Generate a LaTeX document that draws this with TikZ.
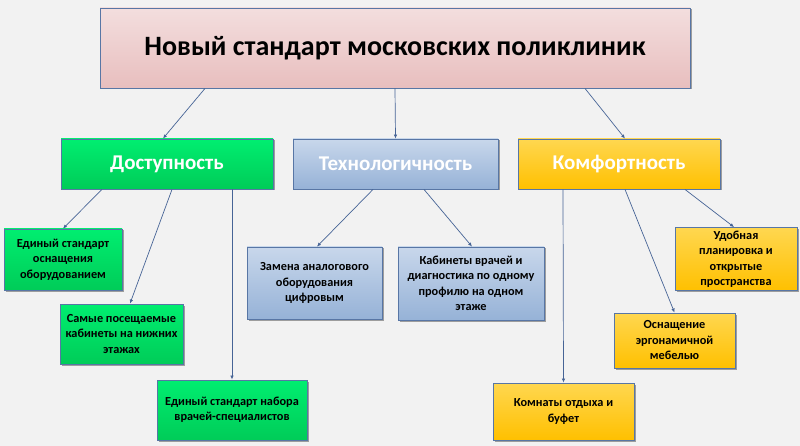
\documentclass[tikz,border=0pt]{standalone}
\usepackage{fontspec}
\setmainfont{Carlito}
\usetikzlibrary{arrows.meta,shadows,calc}

\definecolor{bgc}{RGB}{242,242,242}
\definecolor{edgec}{RGB}{88,118,165}
\definecolor{linkc}{RGB}{70,100,150}
\definecolor{pinktop}{RGB}{243,222,222}
\definecolor{pinkbot}{RGB}{232,190,190}
\definecolor{greentop}{RGB}{0,238,112}
\definecolor{greenbot}{RGB}{0,204,88}
\definecolor{bluetop}{RGB}{200,215,235}
\definecolor{bluebot}{RGB}{150,178,215}
\definecolor{goldtop}{RGB}{255,215,80}
\definecolor{goldbot}{RGB}{255,192,0}

\begin{document}
\begin{tikzpicture}[
    x=1pt, y=-1pt,
    font=\bfseries,
    box/.style={draw=edgec, line width=0.9pt, align=center, inner sep=3pt,
                drop shadow={shadow xshift=1.5pt, shadow yshift=-1.5pt,
                             opacity=0.35, fill=black}},
    head/.style={box, top color=pinktop, bottom color=pinkbot,
                 minimum width=590pt, minimum height=80pt,
                 font=\bfseries\fontsize{28}{32}\selectfont},
    topic/.style={box, minimum height=50pt, text=white,
                  font=\bfseries\fontsize{21}{25}\selectfont},
    item/.style={box, font=\bfseries\fontsize{12.3}{15.5}\selectfont},
    green/.style={top color=greentop, bottom color=greenbot},
    blue/.style={top color=bluetop, bottom color=bluebot},
    gold/.style={top color=goldtop, bottom color=goldbot},
    arr/.style={-{Latex[length=4pt,width=3.5pt]}, linkc, line width=0.7pt}
  ]

  % ===== background =====
  \fill[bgc] (0,0) rectangle (800,446);

  % ===== title and three topics =====
  \node[head] (title) at (395,48) {Новый стандарт московских поликлиник};
  \node[topic, green, minimum width=212pt] (dost) at (167,164) {Доступность};
  \node[topic, blue,  minimum width=205pt] (tech) at (395.5,164) {Технологичность};
  \node[topic, gold,  minimum width=202pt] (komf) at (619,164) {Комфортность};

  \draw[arr] ([xshift=-190pt]title.south) -- ([xshift=-4pt]dost.north);
  \draw[arr] (title.south) -- (tech.north);
  \draw[arr] ([xshift=190pt]title.south) -- ([xshift=6pt]komf.north);

  % ===== Доступность =====
  \node[item, green, minimum width=118pt, minimum height=61pt] (eq) at (63,259.5)
    {Единый стандарт\\оснащения\\оборудованием};
  \node[item, green, minimum width=123pt, minimum height=60pt] (floor) at (121.5,334)
    {Самые посещаемые\\кабинеты на нижних\\этажах};
  \node[item, green, minimum width=150pt, minimum height=60pt] (staff) at (232,410)
    {Единый стандарт набора\\врачей-специалистов};

  \draw[arr] ([xshift=-65pt]dost.south) -- (eq.north);
  \draw[arr] ([xshift=5pt]dost.south) -- ([xshift=8.5pt]floor.north);
  \draw[arr] ([xshift=65pt]dost.south) -- (staff.north);

  % ===== Технологичность =====
  \node[item, blue, minimum width=135pt, minimum height=72pt] (digit) at (314.5,283)
    {Замена аналогового\\оборудования\\цифровым};
  \node[item, blue, minimum width=146pt, minimum height=73pt] (prof) at (471,283.5)
    {Кабинеты врачей и\\диагностика по одному\\профилю на одном\\этаже};

  \draw[arr] ([xshift=-22.5pt]tech.south) -- ([xshift=2.5pt]digit.north);
  \draw[arr] ([xshift=28.5pt]tech.south) -- ([xshift=1pt]prof.north);

  % ===== Комфортность =====
  \node[item, gold, minimum width=122pt, minimum height=60pt] (plan) at (736,259)
    {Удобная\\планировка и\\открытые\\пространства};
  \node[item, gold, minimum width=121pt, minimum height=55pt] (furn) at (674.5,340.5)
    {Оснащение\\эргонамичной\\мебелью};
  \node[item, gold, minimum width=141pt, minimum height=57pt] (rest) at (563.5,411.5)
    {Комнаты отдыха и\\буфет};

  \draw[arr] ([xshift=-56pt]komf.south) -- (rest.north);
  \draw[arr] ([xshift=6pt]komf.south) -- (furn.north);
  \draw[arr] ([xshift=66pt]komf.south) -- ([xshift=-2pt]plan.north);

\end{tikzpicture}
\end{document}
